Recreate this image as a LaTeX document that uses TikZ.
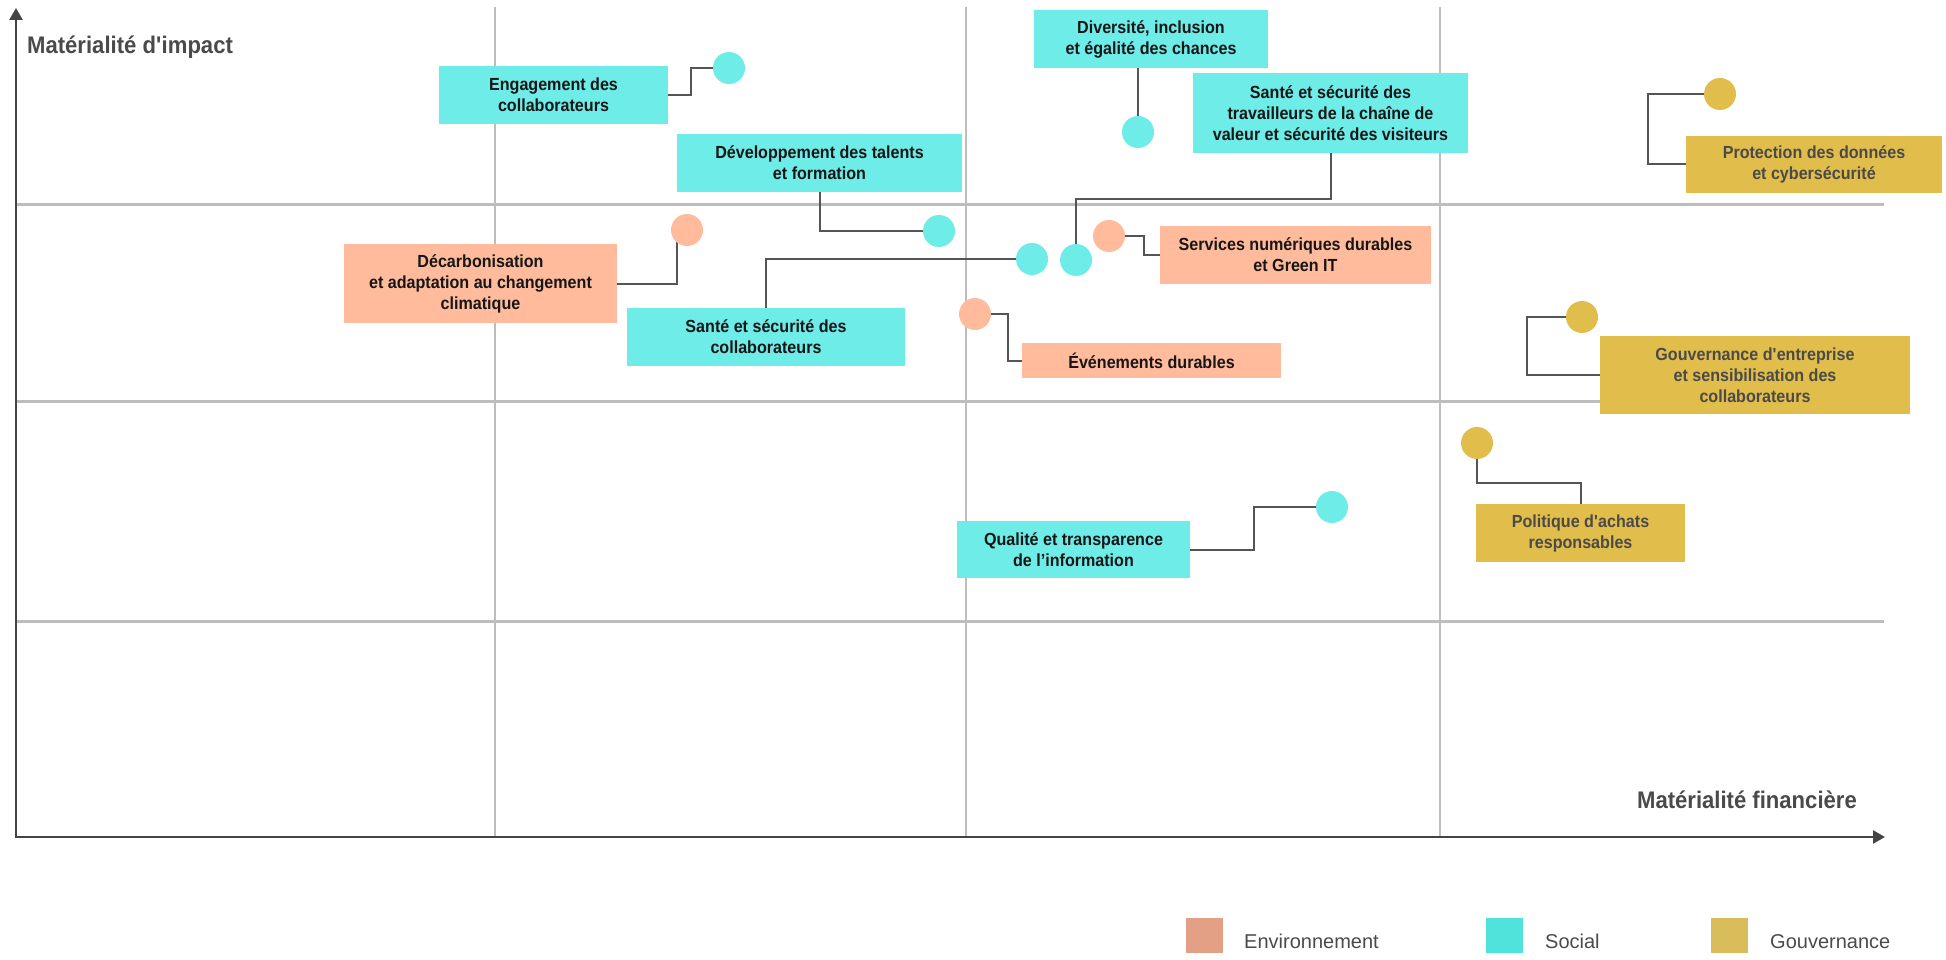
\documentclass[tikz,border=0pt]{standalone}
\usepackage{fontspec}
\setmainfont{Liberation Sans}[FakeStretch=0.92]
\newfontfamily\legfont{Liberation Sans}
\usetikzlibrary{arrows.meta}
\definecolor{cyanbox}{HTML}{6EECE8}
\definecolor{salmonbox}{HTML}{FFBB9B}
\definecolor{goldbox}{HTML}{E1BD4C}
\definecolor{legenv}{HTML}{E4A085}
\definecolor{legsoc}{HTML}{50E3DC}
\definecolor{leggov}{HTML}{D8BD5A}
\definecolor{gridgray}{HTML}{BDBDBD}
\definecolor{axisgray}{HTML}{444444}
\definecolor{conngray}{HTML}{555555}
\definecolor{darktext}{HTML}{161616}
\definecolor{graytext}{HTML}{4A4A4A}
\pgfdeclarelayer{bg}
\pgfdeclarelayer{conn}
\pgfsetlayers{bg,conn,main}
\begin{document}
\begin{tikzpicture}[x=1pt,y=-1pt,
  box/.style={inner sep=0pt, align=center, font=\fontsize{17.5}{21}\selectfont\bfseries, text=darktext},
  sbox/.style={box, fill=cyanbox},
  ebox/.style={box, fill=salmonbox},
  gbox/.style={box, fill=goldbox, text=graytext},
  dot/.style={circle, inner sep=0pt, minimum size=32pt},
  conline/.style={draw=conngray, line width=2pt},
  hgrid/.style={draw=gridgray, line width=3pt},
  vgrid/.style={draw=gridgray, line width=2pt},
  axisline/.style={draw=axisgray, line width=2.5pt},
  axislabel/.style={inner sep=0pt, font=\fontsize{24}{28}\selectfont\bfseries, text=graytext},
  legsq/.style={inner sep=0pt, minimum width=37pt, minimum height=35pt},
  legtext/.style={inner sep=0pt, font=\legfont\fontsize{20}{24}\selectfont, text=graytext}
]
\useasboundingbox (0,0) rectangle (1946,960);

% grid and axes
\begin{pgfonlayer}{bg}
\foreach \yy in {205,401,621} \draw[hgrid] (16,\yy) -- (1884,\yy);
\foreach \xx in {495,966,1440} \draw[vgrid] (\xx,7) -- (\xx,837);
\draw[axisline, -{Triangle[width=13pt,length=12pt]}] (16,838) -- (16,8);
\draw[axisline, -{Triangle[width=13pt,length=12pt]}] (15,837) -- (1885,837);
\end{pgfonlayer}

\node[axislabel, anchor=base west] (ylab) at (27,54) {Matérialité d\textquotesingle impact};
\node[axislabel, anchor=base east] (xlab) at (1857,808) {Matérialité financière};

% boxes
\node[sbox, minimum width=229pt, minimum height=58pt] (eng) at (553.5,95) {Engagement des\\collaborateurs};
\node[ebox, minimum width=273pt, minimum height=79pt] (dec) at (480.5,283.5) {Décarbonisation\\et adaptation au changement\\climatique};
\node[sbox, minimum width=285pt, minimum height=58pt] (dev) at (819.5,163) {Développement des talents\\et formation};
\node[sbox, minimum width=278pt, minimum height=58pt] (ssc) at (766,337) {Santé et sécurité des\\collaborateurs};
\node[sbox, minimum width=234pt, minimum height=58pt] (div) at (1151,39) {Diversité, inclusion\\et égalité des chances};
\node[sbox, minimum width=275pt, minimum height=80pt] (sst) at (1330.5,113) {Santé et sécurité des\\travailleurs de la chaîne de\\valeur et sécurité des visiteurs};
\node[ebox, minimum width=271pt, minimum height=58pt] (serv) at (1295.5,255) {Services numériques durables\\et Green IT};
\node[ebox, minimum width=259pt, minimum height=35pt] (evt) at (1151.5,360.5) {Événements durables};
\node[sbox, minimum width=233pt, minimum height=57pt] (qual) at (1073.5,549.5) {Qualité et transparence\\de l’information};
\node[gbox, minimum width=256pt, minimum height=57pt] (prot) at (1814,164.5) {Protection des données\\et cybersécurité};
\node[gbox, minimum width=310pt, minimum height=78pt] (gouv) at (1755,375) {Gouvernance d\textquotesingle entreprise\\et sensibilisation des\\collaborateurs};
\node[gbox, minimum width=209pt, minimum height=58pt] (pol) at (1580.5,533) {Politique d\textquotesingle achats\\responsables};

% dots
\node[dot, fill=cyanbox] (d1) at (729,68) {};
\node[dot, fill=salmonbox] (d2) at (687,230) {};
\node[dot, fill=cyanbox] (d3) at (939,231) {};
\node[dot, fill=cyanbox] (d4) at (1032,259) {};
\node[dot, fill=cyanbox] (d5) at (1138,132) {};
\node[dot, fill=cyanbox] (d6) at (1076,260) {};
\node[dot, fill=salmonbox] (d7) at (1109,236) {};
\node[dot, fill=salmonbox] (d8) at (975,314) {};
\node[dot, fill=cyanbox] (d9) at (1332,507) {};
\node[dot, fill=goldbox] (d10) at (1720,94) {};
\node[dot, fill=goldbox] (d11) at (1582,317) {};
\node[dot, fill=goldbox] (d12) at (1477,443) {};

% connectors
\begin{pgfonlayer}{conn}
\draw[conline] (eng.east) -- ++(23,0) |- (d1.west);
\draw[conline] (dec.east) -| ([xshift=-10pt]d2.center);
\draw[conline] (dev.south) |- (d3.west);
\draw[conline] (ssc.north) |- (d4.west);
\draw[conline] (d5.north) -- (d5.north |- div.south);
\draw[conline] (sst.south) -- ++(0,46) -| (d6.north);
\draw[conline] (d7.east) -- ++(19,0) |- (serv.west);
\draw[conline] (d8.east) -- ++(17,0) |- (evt.west);
\draw[conline] (qual.east) -- ++(64,0) |- (d9.west);
\draw[conline] (d10.west) -- ++(-56,0) |- (prot.west);
\draw[conline] (d11.west) -- ++(-39,0) |- (gouv.west);
\draw[conline] (d12.south) -- ++(0,24) -| (pol.north);
\end{pgfonlayer}

% legend
\node[legsq, fill=legenv] (lenv) at (1204.5,935.5) {};
\node[legtext, anchor=base west] (tenv) at (1244,948) {Environnement};
\node[legsq, fill=legsoc] (lsoc) at (1504.5,935.5) {};
\node[legtext, anchor=base west] (tsoc) at (1545,948) {Social};
\node[legsq, fill=leggov] (lgov) at (1729.5,935.5) {};
\node[legtext, anchor=base west] (tgov) at (1770,948) {Gouvernance};
\end{tikzpicture}
\end{document}
